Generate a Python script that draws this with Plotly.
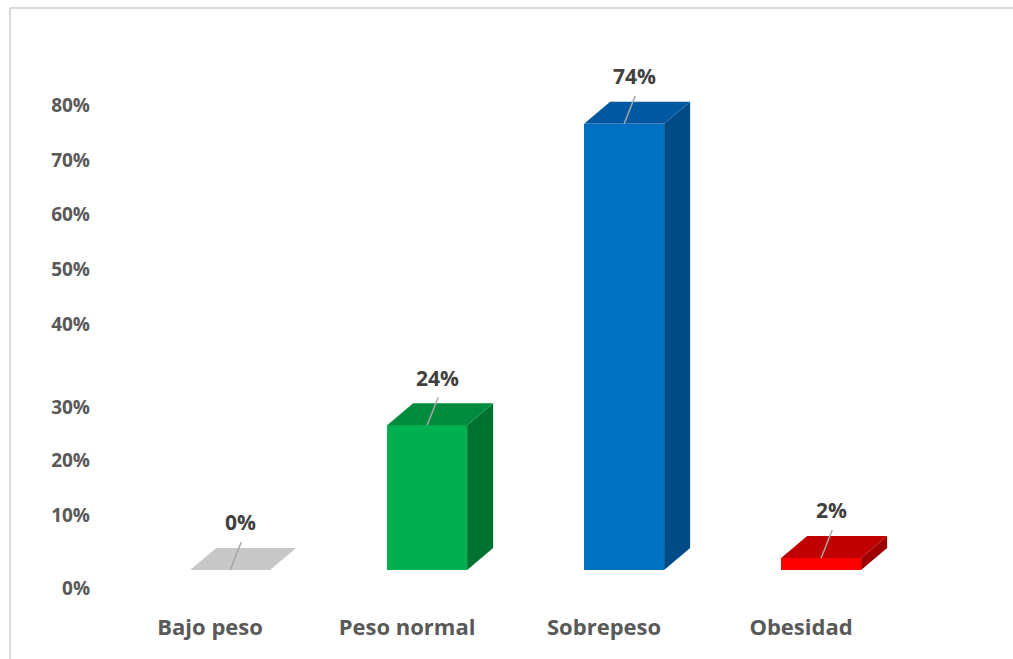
import plotly.graph_objects as go

# ---- data ----
categories = ["Bajo peso", "Peso normal", "Sobrepeso", "Obesidad"]
values = [0, 24, 74, 2]
value_labels = ["0%", "24%", "74%", "2%"]
y_tick_text = ["0%", "10%", "20%", "30%", "40%", "50%", "60%", "70%", "80%"]
y_tick_pos = [-3, 9, 18.1, 26.9, 40.8, 49.8, 58.9, 68, 77]

front_colors = ["#c8c8c8", "#00b050", "#0070c0", "#ff0000"]
top_colors = ["#c8c8c8", "#008a3e", "#0058a0", "#c00000"]
side_colors = ["#b0b0b0", "#00722f", "#004a86", "#9e0000"]

# ---- geometry (in axis units) ----
x_pos = list(range(len(categories)))
shift = 0.102      # front face centre relative to category tick
bar_w = 0.406
dx = 0.132         # depth offset (x units)
dy = 3.65          # depth offset (y units)

fig = go.Figure()

for i, (c, v) in enumerate(zip(categories, values)):
    cx = x_pos[i] + shift
    xl, xr = cx - bar_w / 2, cx + bar_w / 2
    # side face
    fig.add_trace(go.Scatter(
        x=[xr, xr + dx, xr + dx, xr, xr],
        y=[0, dy, v + dy, v, 0],
        fill="toself", fillcolor=side_colors[i], mode="lines",
        line=dict(width=0, color=side_colors[i]), hoverinfo="skip", showlegend=False))
    # top face
    fig.add_trace(go.Scatter(
        x=[xl, xr, xr + dx, xl + dx, xl],
        y=[v, v, v + dy, v + dy, v],
        fill="toself", fillcolor=top_colors[i], mode="lines",
        line=dict(width=0, color=top_colors[i]), hoverinfo="skip", showlegend=False))

# front faces
fig.add_trace(go.Bar(
    x=[p + shift for p in x_pos], y=values, width=bar_w,
    marker=dict(color=front_colors, line=dict(width=0)),
    hoverinfo="skip", showlegend=False))

# leader lines and data labels
for i, v in enumerate(values):
    cx = x_pos[i] + shift
    fig.add_trace(go.Scatter(
        x=[cx, cx + 0.056], y=[v, v + 4.6], mode="lines",
        line=dict(color="#a6a6a6", width=1.5), hoverinfo="skip", showlegend=False))
    fig.add_annotation(
        x=cx + 0.055, y=v + 7.9, text=value_labels[i], showarrow=False,
        font=dict(family="Open Sans", size=21, color="#404040", weight="bold"),
        xanchor="center", yanchor="middle")

# border lines (chart area frame)
fig.add_shape(type="line", xref="paper", yref="paper",
              x0=-0.0951, x1=-0.0951, y0=1.0203, y1=-0.08,
              line=dict(color="#d9d9d9", width=2))
fig.add_shape(type="line", xref="paper", yref="paper",
              x0=-0.0951, x1=1.02, y0=1.0203, y1=1.0203,
              line=dict(color="#d9d9d9", width=2))

fig.update_layout(
    width=1013, height=659,
    margin=dict(l=96, r=13, t=20, b=47),
    paper_bgcolor="white", plot_bgcolor="white",
    bargap=0,
    xaxis=dict(range=[-0.579, 4.01], tickvals=x_pos, ticktext=categories,
               showgrid=False, zeroline=False, showline=False, ticks="",
               tickfont=dict(family="Open Sans", size=22, color="#595959", weight="bold")),
    yaxis=dict(range=[-6.97, 91.2], tickvals=y_tick_pos, ticktext=y_tick_text,
               showgrid=False, zeroline=False, showline=False, ticks="",
               ticklabelstandoff=5,
               tickfont=dict(family="Open Sans", size=19, color="#595959", weight="bold")),
)

fig.write_html("out.html")
